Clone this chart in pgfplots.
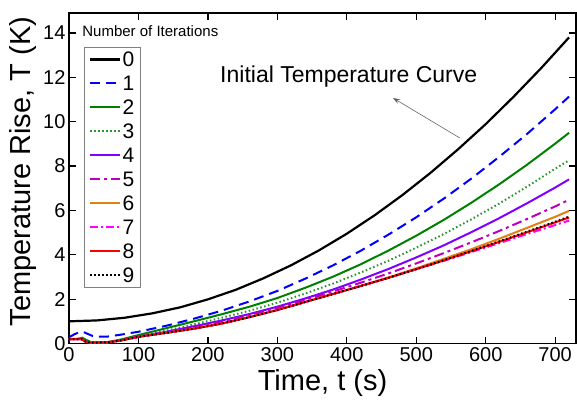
\documentclass[border=0pt]{standalone}
\usepackage{fontspec}
\setmainfont{Liberation Sans}
\usepackage{pgfplots}
\pgfplotsset{compat=1.18}
\usetikzlibrary{arrows.meta}
\definecolor{c1}{RGB}{0,0,255}
\definecolor{c2}{RGB}{0,128,0}
\definecolor{c3}{RGB}{40,150,40}
\definecolor{c4}{RGB}{128,0,255}
\definecolor{c5}{RGB}{190,0,190}
\definecolor{c6}{RGB}{225,128,20}
\definecolor{c7}{RGB}{255,0,255}
\definecolor{c8}{RGB}{255,0,0}
\begin{document}
\begin{tikzpicture}
\begin{axis}[
  scale only axis, width=507pt, height=330.5pt,
  xmin=0, xmax=730, ymin=0, ymax=14.9,
  xtick={0,100,...,700}, ytick={0,2,...,14},
  tick align=inside, major tick length=7pt,
  tick style={black, line width=1.2pt},
  axis line style={line width=1.5pt},
  ticklabel style={font=\fontsize{20}{24}\selectfont},
  /pgf/number format/assume math mode=true,
  xlabel={Time, t (s)}, ylabel={Temperature Rise, T (K)},
  label style={font=\fontsize{29}{34}\selectfont},
  xlabel style={at={(axis description cs:0.5,-0.118)}, anchor=center},
  ylabel style={at={(axis description cs:-0.091,0.52)}, anchor=center},
  legend style={at={(axis description cs:0.0296,0.897)}, anchor=north west,
    draw=gray, line width=0.8pt, fill=white, inner xsep=4.5pt, inner ysep=0pt,
    font=\fontsize{21}{24}\selectfont,
    nodes={text height=15pt, text depth=0pt, inner ysep=4.5pt, inner xsep=1.5pt}},
  legend cell align=left,
  legend image code/.code={\draw[#1] (0pt,0pt) -- (30pt,0pt);},
]
\addplot[black, line width=2.2pt] coordinates {(0,1.00)(40,1.04)(80,1.16)(120,1.36)(160,1.63)(200,1.99)(240,2.42)(280,2.94)(320,3.53)(360,4.20)(400,4.95)(440,5.78)(480,6.69)(520,7.68)(560,8.75)(600,9.89)(640,11.12)(680,12.42)(720,13.80)};
\addlegendentry{0}
\addplot[c1, line width=2pt, dash pattern=on 10pt off 6pt] coordinates {(0,0.28)(8,0.42)(16,0.52)(22,0.50)(28,0.42)(34,0.34)(45,0.31)(55,0.31)(75,0.40)(100,0.53)(140,0.80)(180,1.12)(220,1.48)(260,1.90)(300,2.37)(340,2.92)(380,3.52)(420,4.18)(460,4.91)(500,5.69)(540,6.54)(580,7.45)(620,8.43)(660,9.46)(700,10.56)(720,11.13)};
\addlegendentry{1}
\addplot[c2, line width=2pt] coordinates {(0,0.20)(12,0.21)(19,0.26)(25,0.16)(31,0.07)(40,0.05)(55,0.06)(75,0.18)(100,0.38)(140,0.69)(180,1.00)(220,1.32)(260,1.66)(300,2.05)(340,2.51)(380,3.01)(420,3.57)(460,4.19)(500,4.86)(540,5.58)(580,6.36)(620,7.19)(660,8.07)(700,9.01)(720,9.50)};
\addlegendentry{2}
\addplot[c3, line width=2pt, dash pattern=on 1.5pt off 2.5pt] coordinates {(0,0.20)(18,0.20)(24,0.09)(30,0.04)(55,0.05)(75,0.16)(100,0.33)(140,0.58)(180,0.86)(220,1.16)(260,1.48)(300,1.84)(340,2.25)(380,2.70)(420,3.20)(460,3.73)(500,4.32)(540,4.94)(580,5.61)(620,6.32)(660,7.08)(700,7.88)(720,8.26)};
\addlegendentry{3}
\addplot[c4, line width=2pt] coordinates {(0,0.20)(18,0.20)(24,0.09)(30,0.04)(55,0.05)(75,0.15)(100,0.31)(140,0.53)(180,0.78)(220,1.04)(260,1.33)(300,1.66)(340,2.03)(380,2.43)(420,2.88)(460,3.36)(500,3.88)(540,4.43)(580,5.03)(620,5.66)(660,6.33)(700,7.03)(720,7.40)};
\addlegendentry{4}
\addplot[c5, line width=2pt, dash pattern=on 10pt off 4pt on 3pt off 4pt] coordinates {(0,0.20)(18,0.20)(24,0.09)(30,0.04)(55,0.05)(75,0.14)(100,0.30)(140,0.50)(180,0.72)(220,0.97)(260,1.28)(300,1.61)(340,1.96)(380,2.34)(420,2.74)(460,3.16)(500,3.61)(540,4.08)(580,4.57)(620,5.08)(660,5.62)(700,6.18)(720,6.48)};
\addlegendentry{5}
\addplot[c6, line width=2pt] coordinates {(0,0.20)(18,0.20)(24,0.08)(30,0.04)(55,0.05)(75,0.14)(100,0.30)(140,0.48)(180,0.67)(220,0.90)(260,1.19)(300,1.51)(340,1.87)(380,2.23)(420,2.60)(460,2.98)(500,3.39)(540,3.82)(580,4.26)(620,4.73)(660,5.22)(700,5.71)(720,5.98)};
\addlegendentry{6}
\addplot[c7, line width=2pt, dash pattern=on 8pt off 3pt on 2pt off 3pt] coordinates {(0,0.20)(18,0.20)(24,0.08)(30,0.04)(55,0.05)(75,0.14)(100,0.30)(140,0.48)(180,0.67)(220,0.90)(260,1.19)(300,1.51)(340,1.87)(380,2.23)(420,2.59)(460,2.96)(500,3.35)(540,3.73)(580,4.13)(620,4.53)(660,4.94)(700,5.34)(720,5.54)};
\addlegendentry{7}
\addplot[c8, line width=2pt] coordinates {(0,0.20)(18,0.20)(24,0.08)(30,0.04)(55,0.05)(75,0.14)(100,0.30)(140,0.48)(180,0.67)(220,0.90)(260,1.19)(300,1.51)(340,1.87)(380,2.23)(420,2.59)(460,2.96)(500,3.35)(540,3.75)(580,4.17)(620,4.59)(660,5.02)(700,5.46)(720,5.68)};
\addlegendentry{8}
\addplot[black, line width=2pt, dash pattern=on 1.5pt off 2.5pt] coordinates {(0,0.20)(18,0.20)(24,0.08)(30,0.04)(55,0.05)(75,0.14)(100,0.30)(140,0.48)(180,0.67)(220,0.90)(260,1.19)(300,1.51)(340,1.87)(380,2.23)(420,2.59)(460,2.96)(500,3.35)(540,3.76)(580,4.18)(620,4.61)(660,5.05)(700,5.49)(720,5.72)};
\addlegendentry{9}
\node[anchor=west, inner sep=0pt, font=\fontsize{15}{18}\selectfont] at (axis description cs:0.026,0.9455) {Number of Iterations};
\node[anchor=center, font=\fontsize{23}{27}\selectfont] at (axis cs:402.7,12.05) {Initial Temperature Curve};
\draw[-{Stealth[length=7pt,width=5pt]}, black!60, line width=0.6pt] (axis cs:563,9.26) -- (axis cs:466.4,11.07);
\end{axis}
\pgfresetboundingbox
\path[use as bounding box] ([shift={(-69pt,-57.5pt)}]current axis.south west) rectangle ++(577pt,401pt);
\end{tikzpicture}
\end{document}
